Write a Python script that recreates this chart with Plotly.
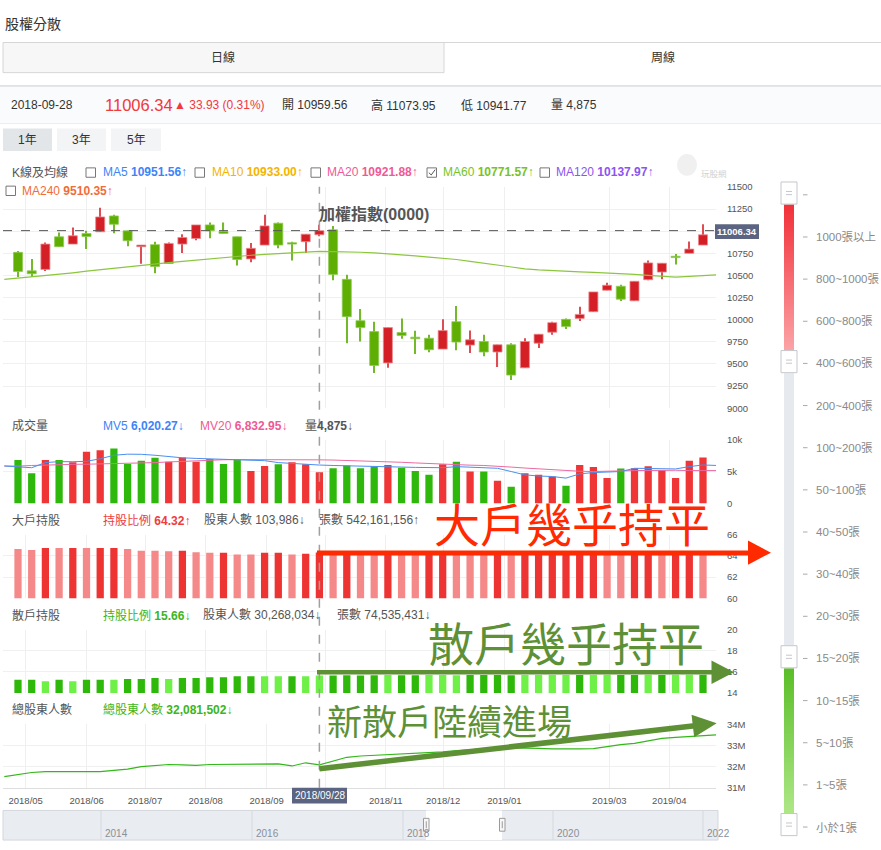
import plotly.graph_objects as go
import numpy as np

W, H = 881, 850
def X(px): return px / W
def Y(py): return 1 - py / H

# ---------------- data ----------------
weeks = list(range(51))
line_idx = list(range(-1, 52))   # lines include the neighbouring off-screen weeks

opens  = [10761,10552,10568,10937,10854,10974,10993,11172,11004,10825,10848,10635,10854,10918,11071,10996,10937,10687,10843,11090,10870,10881,10959.56,11015,10456,
          9989,9866,9512,9855,9803,9791,9668,9978,9713,9754,9635,9717,9456,9735,9859,10004,10015,10090,10333,10378,10213,10452,10538,10717,10750,10843]
highs  = [10776,10686,10873,10985,11041,11004,11265,11187,11004,10843,10881,10873,10966,11071,11097,11097,10937,10866,11187,11097,10881,10966,11073.95,11060,10507,
          10120,9978,9911,10015,9874,9829,10004,10154,9877,9829,9717,9735,9791,9836,9978,10015,10146,10314,10418,10396,10434,10669,10638,10743,10884,11078]
lows   = [10482,10482,10549,10825,10854,10798,10993,10977,10829,10631,10526,10635,10754,10899,10921,10974,10613,10650,10843,10806,10669,10754,10941.77,10445,9735,
          9754,9399,9456,9785,9612,9631,9668,9654,9624,9586,9467,9318,9456,9680,9829,9896,9986,10090,10333,10210,10213,10445,10456,10624,10750,10843]
closes = [10545,10519,10854,10825,10948,10940,11161,11078,10892,10843,10601,10862,10929,11071,11004,10974,10680,10806,11060,10843,10854,10966,11006.34,10512,10034,
          9911,9482,9911,9821,9785,9661,9877,9747,9773,9635,9717,9374,9754,9836,9967,9922,10060,10314,10389,10232,10434,10642,10638,10702,10798,10959]

ma60 = [10456,10470,10485,10500,10515,10530,10548,10565,10585,10600,10615,10630,10645,10660,10675,10690,10705,10718,10728,10738,10748,10756,10764,10772,
        10770,10768,10762,10754,10745,10736,10722,10708,10695,10680,10660,10638,10615,10595,10575,10562,10552,10545,10540,10535,10530,10525,10512,10500,
        10490,10482,10490,10500,10507]

volume = [6800,4740,6800,6800,6440,8080,8350,8600,6180,6700,7160,6540,7210,6540,6950,6180,6800,5100,5870,6130,6440,6130,4875,5510,5950,
          5510,5770,6030,5610,5100,4480,6130,6540,5000,5000,3550,2630,4740,4480,4220,2780,6030,5720,3970,5460,5510,5830,5200,3970,6700,7210]
vol_dir = list("GGRGRRRGGGGRRRGGGRRGRRRGGGGRGGGRGRGRGRRRGRRRGRRRRRR")
mv5  = [5870,5750,5600,6400,6550,6540,6600,7000,7550,7720,7700,7550,7300,7150,7060,7000,6950,6900,6850,6700,6400,6250,6150,6020,
        5950,5880,5800,5770,5750,5700,5650,5600,5600,5770,5650,5600,5510,5000,4480,4300,4220,3970,4640,4840,4950,5000,5510,5480,5410,5410,5770,6030,5950]
mv20 = [5870,5850,5950,6030,6100,6130,6150,6180,6220,6260,6300,6400,6500,6600,6700,6800,6850,6870,6880,6880,6890,6900,6900,6833,
        6800,6750,6700,6620,6550,6450,6350,6250,6130,6050,6000,5950,5870,5700,5550,5400,5250,5150,5050,5000,5000,5100,5150,5200,5250,5200,5150,5150,5150]

big_ratio = [64.66,64.57,64.76,64.76,64.76,64.76,64.76,64.76,64.66,64.50,64.50,64.44,64.50,64.35,64.29,64.29,64.13,64.13,64.29,64.29,64.13,64.20,64.32,
             64.28,64.30,64.27,64.25,64.29,64.26,64.24,64.27,64.25,64.22,64.20,64.24,64.26,64.27,64.30,64.31,64.33,64.30,64.28,64.30,64.32,64.29,64.31,64.33,64.30,64.32,64.34,64.31]
big_tone = list("LLDLDLDDLLLLDLLDLLDDLDDLDLLDLLDDLLLDLDDDDDDLLDDLDDL")

small_ratio = [15.25,15.25,15.12,15.25,15.12,15.25,15.25,15.25,15.34,15.34,15.43,15.34,15.43,15.43,15.50,15.50,15.59,15.59,15.59,15.59,15.59,15.59,15.66,
               15.67,15.68,15.66,15.69,15.70,15.68,15.69,15.70,15.71,15.69,15.70,15.72,15.70,15.69,15.71,15.70,15.72,15.71,15.70,15.72,15.73,15.71,15.72,15.73,15.72,15.74,15.73,15.74]
small_tone = list("DDLDLDDLDDDLDDDDDDLLDLLDDDDLDDLLLDDDDLLLLDLLDDLDLLD")

holders_m = [31.53,31.61,31.72,31.76,31.76,31.77,31.79,31.76,31.82,31.88,32.00,32.05,32.10,32.08,32.06,32.10,32.11,32.11,32.10,32.12,32.13,32.03,32.18,32.08,
             32.27,32.44,32.50,32.53,32.55,32.60,32.64,32.66,32.70,32.75,32.80,32.84,32.87,32.88,32.88,32.86,32.84,32.83,32.84,32.85,32.95,33.04,33.10,33.20,
             33.33,33.38,33.43,33.47,33.50]

month_pos    = [0.56, 5.01, 9.27, 13.70, 18.15, 22.41, 26.84, 31.04, 35.50, 43.16, 47.54]
month_labels = ["2018/05","2018/06","2018/07","2018/08","2018/09","","2018/11","2018/12","2019/01","2019/03","2019/04"]

price_ticks = [9000,9250,9500,9750,10000,10250,10500,10750,11000,11250,11500]
slider_labels = ["1000張以上","800~1000張","600~800張","400~600張","200~400張","100~200張","50~100張","40~50張",
                 "30~40張","20~30張","15~20張","10~15張","5~10張","1~5張","小於1張"]
nav_years = ["2014","2016","2018","2020","2022"]

# ---------------- colours ----------------
RED_B, GRN_B = "#d51f26", "#5fae04"
RED_W, GRN_W = "#df4d54", "#74b92a"
VOL_R, VOL_G = "#ef3535", "#2fb80c"
BIG_D, BIG_L = "#ee3333", "#f58888"
SM_D, SM_L = "#2db80a", "#6ef046"
FONT = "Liberation Sans, Noto Sans CJK TC, sans-serif"
CJK = "Noto Sans CJK TC, sans-serif"

fig = go.Figure()

up = [c >= o for o, c in zip(opens, closes)]
# candle wicks
fig.add_trace(go.Bar(x=weeks, y=[h - l for h, l in zip(highs, lows)], base=lows, width=0.085,
                     marker=dict(color=[RED_W if u else GRN_W for u in up], line=dict(width=0)),
                     xaxis="x", yaxis="y", hoverinfo="skip"))
# candle bodies
fig.add_trace(go.Bar(x=weeks, y=[max(abs(c - o), 14) for o, c in zip(opens, closes)],
                     base=[min(o, c) for o, c in zip(opens, closes)], width=0.66,
                     marker=dict(color=[RED_B if u else GRN_B for u in up],
                                 line=dict(width=0.8, color=["#e98a8e" if u else "#8fcc55" for u in up])),
                     xaxis="x", yaxis="y", hoverinfo="skip"))
fig.add_trace(go.Scatter(x=line_idx, y=ma60, mode="lines", line=dict(color="#8cc63f", width=1.2),
                         xaxis="x", yaxis="y", hoverinfo="skip"))

# volume
fig.add_trace(go.Bar(x=weeks, y=volume, width=0.53,
                     marker=dict(color=[VOL_R if d == "R" else VOL_G for d in vol_dir], line=dict(width=0)),
                     xaxis="x2", yaxis="y2", hoverinfo="skip"))
fig.add_trace(go.Scatter(x=line_idx, y=mv20, mode="lines", line=dict(color="#ec6aa0", width=1),
                         xaxis="x2", yaxis="y2", hoverinfo="skip"))
fig.add_trace(go.Scatter(x=line_idx, y=mv5, mode="lines", line=dict(color="#4a8ff0", width=1),
                         xaxis="x2", yaxis="y2", hoverinfo="skip"))

# big holders
fig.add_trace(go.Bar(x=weeks, y=big_ratio, width=0.53,
                     marker=dict(color=[BIG_D if t == "D" else BIG_L for t in big_tone], line=dict(width=0)),
                     xaxis="x3", yaxis="y3", hoverinfo="skip"))
# small holders
fig.add_trace(go.Bar(x=weeks, y=small_ratio, width=0.53,
                     marker=dict(color=[SM_D if t == "D" else SM_L for t in small_tone], line=dict(width=0)),
                     xaxis="x4", yaxis="y4", hoverinfo="skip"))
# total holders
fig.add_trace(go.Scatter(x=line_idx, y=holders_m, mode="lines", line=dict(color="#33b81a", width=1.2),
                         xaxis="x5", yaxis="y5", hoverinfo="skip"))

# slider gradients (decoration)
N = 40
fig.add_trace(go.Heatmap(z=[[k] for k in range(N)], x0=0.5, dx=1, y0=201 + (349 - 201) / N / 2, dy=(349 - 201) / N,
                         colorscale=[[0, "#f2323b"], [1, "#fba3a6"]], showscale=False, zsmooth="best",
                         xaxis="x6", yaxis="y6", hoverinfo="skip"))
fig.add_trace(go.Heatmap(z=[[k] for k in range(N)], x0=0.5, dx=1, y0=671 + (818 - 671) / N / 2, dy=(818 - 671) / N,
                         colorscale=[[0, "#5cbf2a"], [1, "#aee786"]], showscale=False, zsmooth="best",
                         xaxis="x6", yaxis="y6", hoverinfo="skip"))

# ---------------- axes ----------------
tickfont = dict(size=9.5, color="#555", family=FONT)
def xax(show, anchor):
    d = dict(domain=[X(3), X(716)], range=[-1.095, 50.95], showgrid=True, gridcolor="#efefef", gridwidth=1,
             tickmode="array", tickvals=month_pos, ticktext=month_labels, zeroline=False,
             showticklabels=show, tickfont=tickfont, anchor=anchor, fixedrange=True)
    if show:
        d.update(showline=True, linecolor="#dedede", linewidth=1, ticks="outside", ticklen=4,
                 tickcolor="rgba(0,0,0,0)")
    else:
        d.update(matches="x5", ticks="")
    return d

def yax(top, bottom, rng, vals, text, anchor):
    return dict(domain=[Y(bottom), Y(top)], range=rng, side="right", anchor=anchor, tickmode="array",
                tickvals=vals, ticktext=text, showgrid=True, gridcolor="#f0f0f0", zeroline=False,
                ticks="outside", ticklen=8, tickcolor="rgba(0,0,0,0)", tickfont=tickfont, fixedrange=True)

layout = dict(
    width=W, height=H, margin=dict(l=0, r=0, t=0, b=0), autosize=False,
    paper_bgcolor="white", plot_bgcolor="rgba(0,0,0,0)", showlegend=False, barmode="overlay",
    hovermode=False, font=dict(family=FONT, color="#333"),
    xaxis=xax(False, "y"), xaxis2=xax(False, "y2"), xaxis3=xax(False, "y3"), xaxis4=xax(False, "y4"),
    xaxis5=xax(True, "y5"),
    yaxis=yax(183.3, 407.5, [9000, 11500], price_ticks, [str(v) if v != 11000 else "" for v in price_ticks], "x"),
    yaxis2=yax(439.3, 504, [0, 10000], [0, 5000, 10000], ["0", "5k", "10k"], "x2"),
    yaxis3=yax(535.7, 600, [60, 66], [60, 62, 64, 66], ["60", "62", "64", "66"], "x3"),
    yaxis4=yax(632, 696, [14, 20], [14, 16, 18, 20], ["14", "16", "18", "20"], "x4"),
    yaxis5=yax(727.7, 792, [31, 34], [31, 32, 33, 34], ["31M", "32M", "33M", "34M"], "x5"),
    xaxis6=dict(domain=[X(784), X(794)], range=[0, 1], visible=False, anchor="y6", fixedrange=True),
    yaxis6=dict(domain=[Y(841), Y(178)], range=[841, 178], visible=False, anchor="x6", fixedrange=True),
)
fig.update_layout(**layout)

# ---------------- shapes ----------------
shapes = []
def rect(x0, y0, x1, y1, fill, line=None, lw=1, layer="above"):
    shapes.append(dict(type="rect", xref="paper", yref="paper", x0=X(x0), x1=X(x1), y0=Y(y1), y1=Y(y0),
                       fillcolor=fill, line=dict(color=line or fill, width=lw if line else 0), layer=layer))
def line(x0, y0, x1, y1, color, w=1, dash=None):
    shapes.append(dict(type="line", xref="paper", yref="paper", x0=X(x0), x1=X(x1), y0=Y(y0), y1=Y(y1),
                       line=dict(color=color, width=w, dash=dash), layer="above"))
def poly(pts, color):
    p = "M " + " L ".join(f"{X(a):.5f},{Y(b):.5f}" for a, b in pts) + " Z"
    shapes.append(dict(type="path", xref="paper", yref="paper", path=p, fillcolor=color,
                       line=dict(color=color, width=0), layer="above"))

# tabs / info bar / buttons
rect(3, 37, 444, 67.5, "#f7f7f7", "#d6d6d6", layer="below")
line(444, 37, 881, 37, "#d6d6d6")
rect(0, 81, 881, 119, "#fafbfc", layer="below")
line(0, 81, 881, 81, "#c9cdd2")
line(0, 119, 881, 119, "#eceef0")
rect(3, 124, 52, 147, "#e3e6e9", layer="below")
rect(57, 124, 106, 147, "#f3f4f6", layer="below")
rect(111, 124, 161, 147, "#f3f4f6", layer="below")

# checkboxes
for bx, by in [(86, 164), (195, 164), (311, 164), (427, 164), (540, 164), (6, 182.5)]:
    rect(bx, by, bx + 9.5, by + 9.5, "white", "#777", 1)
shapes.append(dict(type="path", xref="paper", yref="paper",
                   path=f"M {X(428.8)},{Y(168.8)} L {X(431.2)},{Y(171.2)} L {X(435.2)},{Y(165.8)}",
                   line=dict(color="#555", width=1), layer="above"))

# price & crosshair
shapes.append(dict(type="line", xref="x domain", yref="y", x0=0, x1=1, y0=closes[22], y1=closes[22],
                   line=dict(color="#555", width=1, dash="dash"), layer="above"))
shapes.append(dict(type="line", xref="x", yref="paper", x0=weeks[22], x1=weeks[22], y0=Y(792), y1=Y(183),
                   line=dict(color="#a0a0a0", width=1.5, dash="dash"), layer="above"))
rect(715, 221, 759, 236, "#5b6480")
rect(292, 792, 347, 808, "#5b6480")

# slider
rect(784, 372, 794, 648, "#e6e9ed")
for c in [189.5, 360.3, 659.3, 829.3]:
    rect(781, c - 11.2, 797, c + 11.2, "white", "#c4c7cc", 1)
    line(786, c - 1.6, 792, c - 1.6, "#c4c7cc", 1)
    line(786, c + 1.6, 792, c + 1.6, "#c4c7cc", 1)
slider_y = [234 + 42.7 * k for k in range(len(slider_labels))]
for yy in [191.3] + slider_y:
    line(803, yy, 807.5, yy, "#aaaaaa", 1)

# navigator
rect(3, 815, 718, 845, "#e9ecf0", "#d3d7dc", 1, layer="below")
rect(426, 815, 502, 845, "white", layer="below")
nav_x = [101, 252, 403, 553, 703]
for nx in nav_x:
    line(nx, 815, nx, 845, "#d5d9de", 1)
for hx in [423.5, 499.5]:
    rect(hx, 823, hx + 5.5, 836, "#f7f7f7", "#9a9a9a", 1)
    line(hx + 2.75, 826, hx + 2.75, 833, "#9a9a9a", 1)

# big arrows
RED_A, GRN_A = "#ff2a00", "#5e9036"
line(317, 554.2, 752, 554.2, RED_A, 5)
poly([(748, 541.5), (771, 553.8), (748, 566)], RED_A)
line(317, 675, 716, 675, GRN_A, 4.5)
poly([(711.5, 663), (734, 675), (711.5, 687)], GRN_A)
tx, ty = 716.7, 726.7
sx, sy = 319.3, 772.7
L = ((tx - sx) ** 2 + (ty - sy) ** 2) ** 0.5
ux, uy = (tx - sx) / L, (ty - sy) / L
bx, by = tx - 24 * ux, ty - 24 * uy
line(sx, sy, bx + 2 * ux, by + 2 * uy, GRN_A, 5.5)
poly([(bx + 11.5 * -uy, by + 11.5 * ux), (tx, ty), (bx - 11.5 * -uy, by - 11.5 * ux)], GRN_A)

# watermark
shapes.append(dict(type="circle", xref="paper", yref="paper", x0=X(677), x1=X(697), y0=Y(172), y1=Y(150),
                   fillcolor="#f0f0f0", line=dict(width=0), layer="below"))

fig.update_layout(shapes=shapes)

# ---------------- annotations ----------------
anns = []
def txt(t, x, y, size=12, color="#333", anchor="left", family=FONT, bold=False):
    anns.append(dict(text=f"<b>{t}</b>" if bold else t, x=X(x), y=Y(y), xref="paper", yref="paper",
                     xanchor=anchor, yanchor="middle", showarrow=False, font=dict(size=size, color=color, family=family)))

txt("股權分散", 3, 18, 14, "#333")
txt("日線", 223.5, 52, 12, "#333", "center")
txt("周線", 663, 52, 12, "#333", "center")
txt("2018-09-28", 9, 100.5, 12, "#333")
txt("11006.34", 103, 100, 16.5, "#f0383d")
txt("▲ 33.93 (0.31%)", 172, 100.5, 12, "#f0383d")
txt("開 10959.56", 280, 100.5, 12, "#333")
txt("高 11073.95", 369, 100.5, 12, "#333")
txt("低 10941.77", 459, 100.5, 12, "#333")
txt("量 4,875", 549, 100.5, 12, "#333")
txt("1年", 27.5, 135.5, 12, "#333", "center")
txt("3年", 81.5, 135.5, 12, "#333", "center")
txt("5年", 136, 135.5, 12, "#333", "center")

txt("K線及均線", 10, 168.5, 12, "#555")
txt("MA5 <b>10951.56</b>↑", 100.5, 168.5, 12, "#3f83f8")
txt("MA10 <b>10933.00</b>↑", 209.5, 168.5, 12, "#f5b400")
txt("MA20 <b>10921.88</b>↑", 325, 168.5, 12, "#ef5a95")
txt("MA60 <b>10771.57</b>↑", 440.5, 168.5, 12, "#78c31e")
txt("MA120 <b>10137.97</b>↑", 554, 168.5, 12, "#8b55f0")
txt("MA240 <b>9510.35</b>↑", 20, 187, 12, "#f26b38")
txt("玩股網", 714, 170, 8.5, "#d2d2d2", "center")
txt("加權指數(0000)", 317, 211, 16, "#555", bold=True)

txt("成交量", 10, 425, 12, "#555")
txt("MV5 <b>6,020.27</b>↓", 100.5, 425, 12, "#3f83f8")
txt("MV20 <b>6,832.95</b>↓", 198, 425, 12, "#ef5a95")
txt("量<b>4,875</b>↓", 303, 425, 12, "#555")

txt("大戶持股", 10, 521, 12, "#555")
txt("持股比例 <b>64.32</b>↑", 100.5, 521, 12, "#f03c3c")
txt("股東人數 103,986↓", 202, 521, 12, "#555")
txt("張數 542,161,156↑", 317, 521, 12, "#555")

txt("散戶持股", 10, 617, 12, "#555")
txt("持股比例 <b>15.66</b>↓", 100.5, 617, 12, "#3cb521")
txt("股東人數 30,268,034↓", 200.5, 617, 12, "#555")
txt("張數 74,535,431↓", 335, 617, 12, "#555")

txt("總股東人數", 10, 713, 12, "#555")
txt("總股東人數 <b>32,081,502</b>↓", 100.5, 713, 12, "#3cb521")

txt("<b>11006.34</b>", 737, 228.5, 9.5, "white", "center")
txt("2018/09/28", 319.5, 800, 10, "white", "center")

for lab, yy in zip(slider_labels, slider_y):
    txt(lab, 814, yy, 11.5, "#8a8a8a")
for lab, nx in zip(nav_years, nav_x):
    txt(lab, nx + 2, 838, 10, "#8a8f99")

txt("大戶幾乎持平", 572, 523, 46, RED_A, "center", CJK)
txt("散戶幾乎持平", 566, 643, 46, GRN_A, "center", CJK)
txt("新散戶陸續進場", 449, 723, 35, GRN_A, "center", CJK)

fig.update_layout(annotations=anns)
fig.write_html("out.html")
